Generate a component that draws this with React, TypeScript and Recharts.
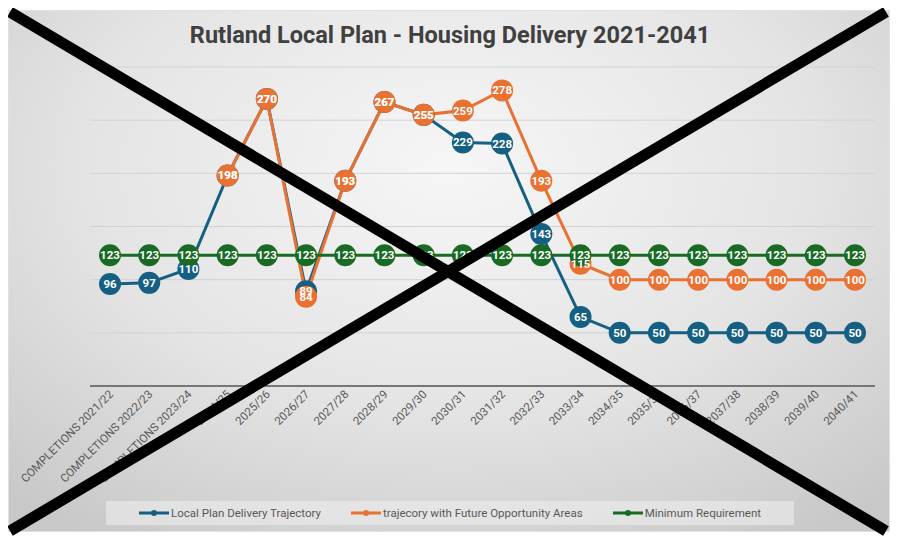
import React from "react";
import {
  LineChart,
  Line,
  CartesianGrid,
  XAxis,
  YAxis,
  Legend,
  LabelList,
} from "recharts";

const years: string[] = [
  "COMPLETIONS 2021/22",
  "COMPLETIONS 2022/23",
  "COMPLETIONS 2023/24",
  "2024/25",
  "2025/26",
  "2026/27",
  "2027/28",
  "2028/29",
  "2029/30",
  "2030/31",
  "2031/32",
  "2032/33",
  "2033/34",
  "2034/35",
  "2035/36",
  "2036/37",
  "2037/38",
  "2038/39",
  "2039/40",
  "2040/41",
];

const localPlan: number[] = [
  96, 97, 110, 198, 270, 89, 193, 267, 255, 229, 228, 143, 65, 50, 50, 50, 50,
  50, 50, 50,
];

const futureAreas: (number | null)[] = [
  null, null, null, 198, 270, 84, 193, 267, 255, 259, 278, 193, 115, 100, 100,
  100, 100, 100, 100, 100,
];

const minimum: number[] = [
  123, 123, 123, 123, 123, 123, 123, 123, 123, 123, 123, 123, 123, 123, 123,
  123, 123, 123, 123, 123,
];

const yTicks: number[] = [0, 50, 100, 150, 200, 250, 300];

const BLUE = "#156082";
const ORANGE = "#E97132";
const GREEN = "#196B24";

const rows = years.map((year, i) => ({
  year,
  plan: localPlan[i],
  future: futureAreas[i],
  min: minimum[i],
}));

const series = [
  { key: "plan", name: "Local Plan Delivery Trajectory", color: BLUE },
  { key: "future", name: "trajecory with Future Opportunity Areas", color: ORANGE },
  { key: "min", name: "Minimum Requirement", color: GREEN },
];

const FONT = "Roboto, 'Noto Sans', sans-serif";

const XTick = (props: any) => {
  const { x, y, payload } = props;
  return (
    <g transform={`translate(${x + 4},${y + 1})`}>
      <text
        x={0}
        y={0}
        textAnchor="end"
        transform="rotate(-45)"
        fontSize={11.5}
        fontFamily={FONT}
        fill="#595959"
        stroke="none"
      >
        {payload.value}
      </text>
    </g>
  );
};

const PointLabel = (props: any) => {
  const { x, y, value } = props;
  if (value == null) return null;
  return (
    <text
      x={x}
      y={y}
      dy={4}
      textAnchor="middle"
      fontSize={11.5}
      fontWeight={700}
      fontFamily={FONT}
      fill="#ffffff"
    >
      {value}
    </text>
  );
};

const LegendBox = () => (
  <div
    style={{
      height: 24,
      display: "flex",
      alignItems: "center",
      justifyContent: "center",
      background: "rgba(240,240,240,0.55)",
      fontFamily: FONT,
      fontSize: 11.5,
      color: "#595959",
    }}
  >
    {series.map((s, i) => (
      <div
        key={s.key}
        style={{ display: "flex", alignItems: "center", marginLeft: i ? 30 : 0 }}
      >
        <svg width={30} height={10}>
          <line x1={0} y1={5} x2={30} y2={5} stroke={s.color} strokeWidth={3} />
          <circle cx={15} cy={5} r={3} fill={s.color} />
        </svg>
        <span style={{ marginLeft: 2 }}>{s.name}</span>
      </div>
    ))}
  </div>
);

const App = () => {
  return (
    <div style={{ position: "relative", width: 884, height: 528 }}>
      <div
        style={{
          position: "absolute",
          left: 0,
          top: 2,
          width: 882,
          height: 522,
          background:
            "radial-gradient(ellipse 75% 85% at 50% 30%, #f6f6f6 0%, #e4e4e4 55%, #c8c8c8 100%)",
          border: "1px solid #e0e0e0",
          boxSizing: "border-box",
        }}
      >
        <div
          style={{
            position: "absolute",
            left: 0,
            width: 882,
            top: 10,
            textAlign: "center",
            fontFamily: FONT,
            fontWeight: 700,
            fontSize: 23.5,
            color: "#404040",
          }}
        >
          Rutland Local Plan - Housing Delivery 2021-2041
        </div>
        <LineChart
          width={882}
          height={522}
          data={rows}
          margin={{ top: 56, right: 16, left: 81, bottom: 8 }}
        >
          <CartesianGrid vertical={false} stroke="#d2d2d2" strokeWidth={1} />
          <XAxis
            dataKey="year"
            interval={0}
            tick={<XTick />}
            tickLine={false}
            axisLine={{ stroke: "#767676", strokeWidth: 2 }}
            padding={{ left: 20, right: 20 }}
            height={115}
          />
          <YAxis hide domain={[0, 300]} ticks={yTicks} />
          <Legend
            verticalAlign="bottom"
            align="center"
            width={688}
            wrapperStyle={{ left: 97, width: 688 }}
            content={<LegendBox />}
          />
          {series.map((s) => (
            <Line
              key={s.key}
              dataKey={s.key}
              name={s.name}
              stroke={s.color}
              strokeWidth={3}
              dot={{ r: 11, fill: s.color, stroke: s.color, strokeWidth: 0 }}
              activeDot={false}
              isAnimationActive={false}
            />
          ))}
          {series.map((s) => (
            <Line
              key={s.key + "-labels"}
              dataKey={s.key}
              stroke="none"
              dot={false}
              activeDot={false}
              legendType="none"
              isAnimationActive={false}
            >
              <LabelList dataKey={s.key} content={<PointLabel />} />
            </Line>
          ))}
        </LineChart>
      </div>
      <svg
        width={900}
        height={544}
        style={{ position: "absolute", left: -8, top: -8, pointerEvents: "none" }}
      >
        <line x1={10} y1={12} x2={886} y2={531} stroke="#000" strokeWidth={11} />
        <line x1={886} y1={12} x2={10} y2={531} stroke="#000" strokeWidth={11} />
      </svg>
    </div>
  );
};

export default App;
